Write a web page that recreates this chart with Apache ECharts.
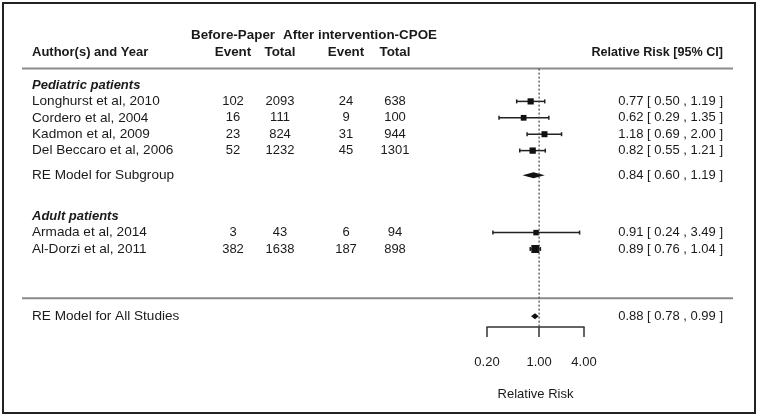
<!DOCTYPE html>
<html><head><meta charset="utf-8">
<script src="https://cdn.jsdelivr.net/npm/echarts@6/dist/echarts.min.js"></script>
<style>html,body{margin:0;padding:0;background:#fff}#c{width:759px;height:416px}</style>
</head><body><div id="c"></div>
<script>
// ---------------- data ----------------
const studies = ['Longhurst et al, 2010', 'Cordero et al, 2004', 'Kadmon et al, 2009', 'Del Beccaro et al, 2006', 'Armada et al, 2014', 'Al-Dorzi et al, 2011'];
const studyRows = [1, 2, 3, 4, 9, 10];
const eventsBefore = [102, 16, 23, 52, 3, 382];
const totalBefore = [2093, 111, 824, 1232, 43, 1638];
const eventsAfter = [24, 9, 31, 45, 6, 187];
const totalAfter = [638, 100, 944, 1301, 94, 898];
const rr = [0.77, 0.62, 1.18, 0.82, 0.91, 0.89];
const ciLow = [0.50, 0.29, 0.69, 0.55, 0.24, 0.76];
const ciHigh = [1.19, 1.35, 2.00, 1.21, 3.49, 1.04];

const summaryLabels = ['RE Model for Subgroup', 'RE Model for All Studies'];
const summaryRows = [5.5, 14.1];
const summaryRR = [0.84, 0.88];
const summaryLow = [0.60, 0.78];
const summaryHigh = [1.19, 0.99];

const groupLabels = ['Pediatric patients', 'Adult patients'];
const groupRows = [0, 8];

const tickValues = [0.20, 1.00, 4.00];
const refValue = 1;

// ---------------- layout ----------------
const FONT = '"Liberation Sans", Arial, sans-serif';
const FS = 13;
const FS_NAME = 13.6;
const TXT = '#1a1a1a';
const COL = { name: 32, evB: 233, totB: 280, evA: 346, totA: 395, ci: 723, afterHdr: 360 };
const ROW = { top: -3, hdr: -2, line1: -1, line2: 13, axis: 14.78 };

const fmt = v => v.toFixed(2);
const ciText = (m, l, h) => fmt(m) + ' [ ' + fmt(l) + ' , ' + fmt(h) + ' ]';

// text cells
const cells = [];
function cell(x, row, text, align, weight, style, size) {
  cells.push({ value: [x, row], text: String(text), align: align, weight: weight || 'normal', fstyle: style || 'normal', size: size || FS });
}
cell(COL.evB, ROW.top, 'Before-Paper', 'center', 'bold', null, 13.4);
cell(COL.afterHdr, ROW.top, 'After intervention-CPOE', 'center', 'bold', null, 13.4);
cell(COL.name, ROW.hdr, 'Author(s) and Year', 'left', 'bold');
cell(COL.evB, ROW.hdr, 'Event', 'center', 'bold', null, 13.4);
cell(COL.totB, ROW.hdr, 'Total', 'center', 'bold', null, 13.4);
cell(COL.evA, ROW.hdr, 'Event', 'center', 'bold', null, 13.4);
cell(COL.totA, ROW.hdr, 'Total', 'center', 'bold', null, 13.4);
cell(COL.ci, ROW.hdr, 'Relative Risk [95% CI]', 'right', 'bold', null, 12.6);
groupLabels.forEach((g, i) => cell(COL.name, groupRows[i], g, 'left', 'bold', 'italic'));
studies.forEach((s, i) => {
  const r = studyRows[i];
  cell(COL.name, r, s, 'left', null, null, FS_NAME);
  cell(COL.evB, r, eventsBefore[i], 'center');
  cell(COL.totB, r, totalBefore[i], 'center');
  cell(COL.evA, r, eventsAfter[i], 'center');
  cell(COL.totA, r, totalAfter[i], 'center');
  cell(COL.ci, r, ciText(rr[i], ciLow[i], ciHigh[i]), 'right');
});
summaryLabels.forEach((s, i) => {
  cell(COL.name, summaryRows[i], s, 'left', null, null, FS_NAME);
  cell(COL.ci, summaryRows[i], ciText(summaryRR[i], summaryLow[i], summaryHigh[i]), 'right');
});

// square sizes from precision (1/se)
const inv = ciLow.map((l, i) => 3.92 / Math.log(ciHigh[i] / l));
const invMin = Math.min(...inv), invMax = Math.max(...inv);
const sq = inv.map(w => 5.5 + (w - invMin) / (invMax - invMin) * 2.5);

const forestData = studies.map((s, i) => [rr[i], ciLow[i], ciHigh[i], studyRows[i], sq[i]]);
const diamondData = summaryRR.map((m, i) => [m, summaryLow[i], summaryHigh[i], summaryRows[i]]);

const chart = echarts.init(document.getElementById('c'), null, { renderer: 'canvas' });
const gridBox = { top: 3, height: 410 };
chart.setOption({
  animation: false,
  backgroundColor: '#fff',
  grid: [
    { left: 3, width: 752, top: gridBox.top, height: gridBox.height, show: true, borderColor: '#222', borderWidth: 2, backgroundColor: 'transparent', containLabel: false, outerBoundsMode: 'none' },
    { left: 487, width: 97, top: gridBox.top, height: gridBox.height, containLabel: false, outerBoundsMode: 'none' }
  ],
  xAxis: [
    { gridIndex: 0, type: 'value', min: 3, max: 755, show: false },
    { gridIndex: 1, type: 'log', logBase: 10, min: 0.2, max: 4, position: 'bottom', offset: -86,
      axisLine: { show: true, onZero: false, lineStyle: { color: '#333', width: 1.5 } },
      axisTick: { show: true, length: 10, customValues: tickValues, lineStyle: { color: '#333', width: 1.5 } },
      axisLabel: { show: true, customValues: tickValues, formatter: v => fmt(v), margin: 29, color: TXT, fontSize: FS, fontFamily: FONT },
      minorTick: { show: false }, splitLine: { show: false }, minorSplitLine: { show: false },
      name: 'Relative Risk', nameLocation: 'middle', nameGap: 61,
      nameTextStyle: { color: TXT, fontSize: FS, fontFamily: FONT }
    }
  ],
  yAxis: [
    { gridIndex: 0, type: 'value', min: -5, max: 20, inverse: true, show: false },
    { gridIndex: 1, type: 'value', min: -5, max: 20, inverse: true, show: false }
  ],
  series: [
    { // separators
      type: 'custom', xAxisIndex: 0, yAxisIndex: 0, clip: false, silent: true,
      data: [[22, 733, ROW.line1], [22, 733, ROW.line2]],
      renderItem: (p, api) => {
        const a = api.coord([api.value(0), api.value(2)]);
        const b = api.coord([api.value(1), api.value(2)]);
        return { type: 'line', shape: { x1: a[0], y1: a[1], x2: b[0], y2: b[1] }, style: { stroke: '#8a8a8a', lineWidth: 2 } };
      }
    },
    { // table text
      type: 'custom', xAxisIndex: 0, yAxisIndex: 0, clip: false, silent: true,
      data: cells.map(c => c.value),
      renderItem: (p, api) => {
        const c = cells[p.dataIndex];
        const pt = api.coord([api.value(0), api.value(1)]);
        return { type: 'text', x: pt[0], y: pt[1], style: {
          text: c.text, align: c.align, verticalAlign: 'middle', fill: TXT,
          font: c.fstyle + ' ' + c.weight + ' ' + c.size + 'px ' + FONT } };
      }
    },
    { // reference line
      type: 'line', xAxisIndex: 1, yAxisIndex: 1, silent: true, showSymbol: false,
      data: [[refValue, ROW.line1], [refValue, ROW.axis]],
      lineStyle: { color: '#444', width: 1.2, type: [2, 2] }
    },
    { // studies
      type: 'custom', xAxisIndex: 1, yAxisIndex: 1, clip: false, silent: true,
      data: forestData,
      renderItem: (p, api) => {
        const row = api.value(3);
        const m = api.coord([api.value(0), row]);
        const l = api.coord([api.value(1), row]);
        const h = api.coord([api.value(2), row]);
        const s = api.value(4);
        const st = { stroke: '#222', lineWidth: 1.5 };
        return { type: 'group', children: [
          { type: 'line', shape: { x1: l[0], y1: l[1], x2: h[0], y2: h[1] }, style: st },
          { type: 'line', shape: { x1: l[0], y1: l[1] - 2, x2: l[0], y2: l[1] + 2 }, style: st },
          { type: 'line', shape: { x1: h[0], y1: h[1] - 2, x2: h[0], y2: h[1] + 2 }, style: st },
          { type: 'rect', shape: { x: m[0] - s / 2, y: m[1] - s / 2, width: s, height: s }, style: { fill: '#111' } }
        ] };
      }
    },
    { // summary diamonds
      type: 'custom', xAxisIndex: 1, yAxisIndex: 1, clip: false, silent: true,
      data: diamondData,
      renderItem: (p, api) => {
        const row = api.value(3);
        const m = api.coord([api.value(0), row]);
        const l = api.coord([api.value(1), row]);
        const h = api.coord([api.value(2), row]);
        return { type: 'polygon', shape: { points: [[l[0], l[1]], [m[0], m[1] - 3], [h[0], h[1]], [m[0], m[1] + 3]] }, style: { fill: '#111' } };
      }
    }
  ]
});
</script></body></html>
